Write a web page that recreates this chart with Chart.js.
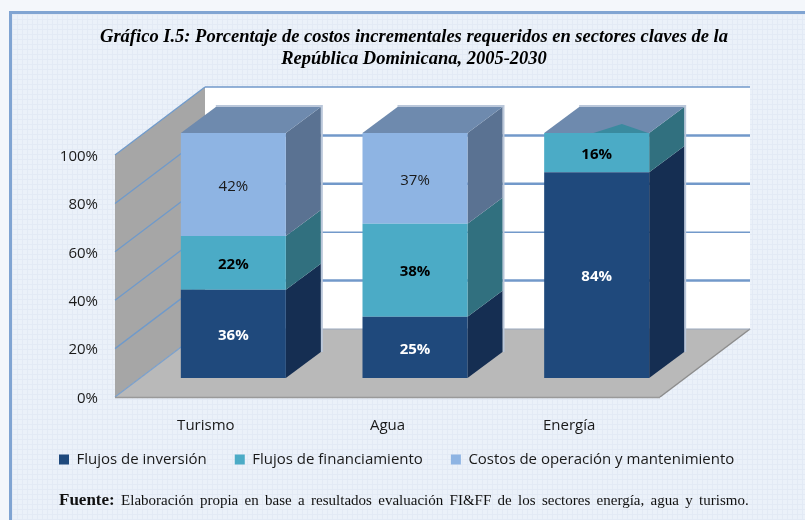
<!DOCTYPE html>
<html lang="es"><head><meta charset="utf-8">
<script src="https://cdn.jsdelivr.net/npm/chart.js@4"></script>
<style>
html,body{margin:0;padding:0;width:805px;height:520px;overflow:hidden;background:#f4f7fb}
#panel{position:absolute;left:9px;top:11px;width:796px;height:509px;box-sizing:border-box;border-top:3px solid #80a4d2;border-left:3px solid #80a4d2;
background-color:#ebf1f9;
background-image:repeating-linear-gradient(90deg,#e3eaf5 0,#e3eaf5 1px,transparent 1px,transparent 5px),repeating-linear-gradient(0deg,#e3eaf5 0,#e3eaf5 1px,transparent 1px,transparent 5px)}
canvas{position:absolute;left:0;top:0}
#fuente{position:absolute;left:59px;top:490px;font:15px "Liberation Serif",serif;color:#111;white-space:nowrap;word-spacing:2.6px}
#fuente b{font-size:17px;word-spacing:0}
</style></head><body>
<div id="panel"></div>
<canvas id="c" width="805" height="520"></canvas>
<div id="fuente"><b>Fuente:</b> Elaboración propia en base a resultados evaluación FI&amp;FF de los sectores energía, agua y turismo.</div>
<script>
const categories = ['Turismo', 'Agua', 'Energía'];
const seriesNames = ['Flujos de inversión', 'Flujos de financiamiento', 'Costos de operación y mantenimiento'];
const inversion = [36, 25, 84];
const financiamiento = [22, 38, 16];
const costos = [42, 37, 0];
const yTicks = [0, 20, 40, 60, 80, 100];

const frontColors = ['#1f497c', '#4babc6', '#8eb4e3'];
const sideColors = ['#152e52', '#31707f', '#5a7292'];
const labelColors = ['#ffffff', '#000000', '#1a1a1a'];
const labelWeights = ['bold', 'bold', 'normal'];
const gridWidths = [0, 2.5, 1.5, 2.5, 2.5, 1.5];
const wallDepth = {x: 90, y: -68};
const barShift = {x: 27.5, y: -19};
const barDepth = {x: 35, y: -26};
const barScaleY = 245 / 242;
const legendLift = 11;

const scene3d = {
  id: 'scene3d',
  afterLayout(chart) {
    chart.legend.top -= legendLift;
    chart.legend.bottom -= legendLift;
  },
  beforeDatasetsDraw(chart) {
    const {ctx, chartArea: a, scales: {y}} = chart;
    const d = wallDepth;
    const poly = (pts, fill) => {
      ctx.beginPath();
      pts.forEach((p, i) => i ? ctx.lineTo(p[0], p[1]) : ctx.moveTo(p[0], p[1]));
      ctx.closePath();
      ctx.fillStyle = fill;
      ctx.fill();
    };
    const line = (x0, y0, x1, y1, w, col) => {
      ctx.beginPath(); ctx.moveTo(x0, y0); ctx.lineTo(x1, y1);
      ctx.lineWidth = w; ctx.strokeStyle = col; ctx.stroke();
    };
    ctx.save();
    poly([[a.left + d.x, a.top + d.y], [a.right + d.x, a.top + d.y], [a.right + d.x, a.bottom + d.y], [a.left + d.x, a.bottom + d.y]], '#ffffff');
    poly([[a.left, a.top], [a.left + d.x, a.top + d.y], [a.left + d.x, a.bottom + d.y], [a.left, a.bottom]], '#a6a6a6');
    poly([[a.left, a.bottom], [a.left + d.x, a.bottom + d.y], [a.right + d.x, a.bottom + d.y], [a.right, a.bottom]], '#b9b9b9');
    yTicks.forEach((t, i) => {
      const py = y.getPixelForValue(t);
      if (t > 0) {
        line(a.left, py, a.left + d.x, py + d.y, 1.3, '#6f9acb');
        line(a.left + d.x, py + d.y, a.right + d.x, py + d.y, gridWidths[i], '#7299ca');
      } else {
        line(a.left, py, a.left + d.x, py + d.y, 1.3, '#7ba0cc');
      }
    });
    line(a.left, a.bottom + 0.5, a.right, a.bottom + 0.5, 1.5, '#999999');
    line(a.right, a.bottom, a.right + d.x, a.bottom + d.y, 1.5, '#8c8c8c');
    line(a.left + d.x, a.bottom + d.y, a.right + d.x, a.bottom + d.y, 1, '#9aa8bd');

    const b0 = y.getPixelForValue(0);
    const sy = v => b0 + barShift.y + (v - b0) * barScaleY;
    const n = categories.length;
    for (let c = 0; c < n; c++) {
      const metas = chart.data.datasets.map((_, i) => chart.getDatasetMeta(i).data[c]);
      const first = metas[0];
      const xl = first.x - first.width / 2 + barShift.x;
      const xr = first.x + first.width / 2 + barShift.x;
      const top = sy(Math.min(...metas.map(m => m.y)));
      const bot = sy(first.base);
      ctx.beginPath();
      ctx.moveTo(xl + barDepth.x, top + barDepth.y - 1);
      ctx.lineTo(xr + barDepth.x + 1, top + barDepth.y - 1);
      ctx.lineTo(xr + barDepth.x + 1, bot + barDepth.y);
      ctx.lineWidth = 2; ctx.strokeStyle = '#bac7da'; ctx.stroke();
      metas.forEach((m, i) => {
        if (m.base === m.y) return;
        const t = sy(m.y), b = sy(m.base);
        poly([[xr, t], [xr + barDepth.x, t + barDepth.y], [xr + barDepth.x, b + barDepth.y], [xr, b]], sideColors[i]);
      });
      poly([[xl, top], [xl + barDepth.x, top + barDepth.y], [xr + barDepth.x, top + barDepth.y], [xr, top]], '#6e8aae');
      const lastMeta = metas[metas.length - 1];
      if (lastMeta.base === lastMeta.y) {
        const w = xr - xl;
        poly([[xl + w * 0.47, top], [xl + w * 0.74, top - 9], [xl + w * 0.99, top]], '#3a8a9f');
      }
    }
    ctx.restore();
    ctx.save();
    ctx.translate(barShift.x, b0 + barShift.y);
    ctx.scale(1, barScaleY);
    ctx.translate(0, -b0);
  },
  afterDatasetsDraw(chart) {
    const {ctx, scales: {y}} = chart;
    ctx.restore();
    const b0 = y.getPixelForValue(0);
    ctx.save();
    ctx.textAlign = 'center';
    ctx.textBaseline = 'middle';
    chart.data.datasets.forEach((ds, i) => {
      chart.getDatasetMeta(i).data.forEach((m, c) => {
        if (!ds.data[c]) return;
        const cy = (m.y + m.base) / 2;
        ctx.font = labelWeights[i] + ' 15px "Open Sans"';
        ctx.fillStyle = labelColors[i];
        ctx.fillText(ds.data[c] + '%', m.x + barShift.x, b0 + barShift.y + (cy - b0) * barScaleY + 2);
      });
    });
    ctx.restore();
  }
};

const seriesValues = [inversion, financiamiento, costos];
new Chart(document.getElementById('c'), {
  type: 'bar',
  data: {
    labels: categories,
    datasets: seriesNames.map((name, i) => ({
      label: name,
      data: seriesValues[i],
      backgroundColor: frontColors[i],
      borderWidth: 0,
      categoryPercentage: 0.578,
      barPercentage: 1
    }))
  },
  plugins: [scene3d],
  options: {
    responsive: false,
    animation: false,
    layout: {padding: {left: 31, right: 8, top: 0, bottom: 32}},
    plugins: {
      tooltip: {enabled: false},
      title: {
        display: true,
        text: ['Gráfico I.5: Porcentaje de costos incrementales requeridos en sectores claves de la', 'República Dominicana, 2005-2030'],
        color: '#000000',
        font: {family: '"Liberation Serif"', size: 18.5, weight: 'bold', style: 'italic', lineHeight: 1.15},
        padding: {top: 27, bottom: 85.5}
      },
      legend: {
        position: 'bottom',
        align: 'start',
        labels: {boxWidth: 10, boxHeight: 10, padding: 28, color: '#1a1a1a', font: {family: '"Open Sans"', size: 15}}
      }
    },
    scales: {
      x: {
        stacked: true,
        grid: {display: false, drawTicks: false},
        border: {display: false},
        ticks: {color: '#1a1a1a', padding: 20, maxRotation: 0, font: {family: '"Open Sans"', size: 15}},
        afterFit(s) { s.height = 38; }
      },
      y: {
        stacked: true,
        min: 0,
        max: 100,
        grid: {display: false, drawTicks: false},
        border: {display: false},
        afterFit(s) { s.width = 84; },
        afterBuildTicks(s) { s.ticks = yTicks.map(v => ({value: v})); },
        ticks: {color: '#1a1a1a', padding: 17, labelOffset: 1.5, font: {family: '"Open Sans"', size: 15}, callback: v => v + '%'}
      },
      depthGutter: {
        type: 'linear',
        position: 'right',
        grid: {display: false, drawTicks: false},
        border: {display: false},
        ticks: {display: false},
        afterFit(s) { s.width = 137; }
      }
    }
  }
});
</script>
</body></html>
